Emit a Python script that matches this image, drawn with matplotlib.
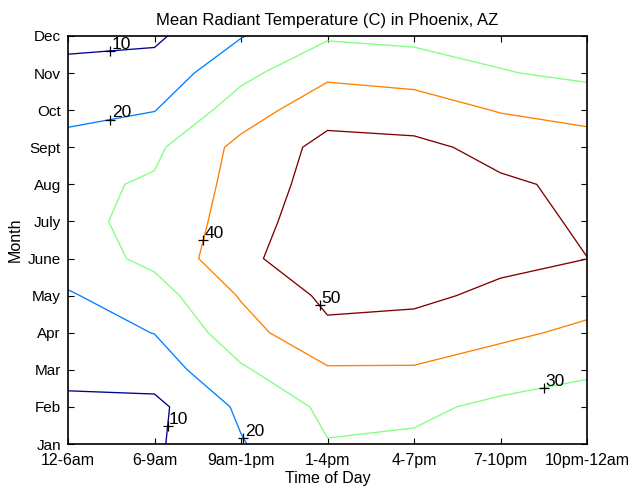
import numpy as np
import matplotlib
matplotlib.use("Agg")
import matplotlib.pyplot as plt

plt.rcParams["font.family"] = ["Liberation Sans", "DejaVu Sans"]

times = ["12-6am", "6-9am", "9am-1pm", "1-4pm", "4-7pm", "7-10pm", "10pm-12am"]
months = ["Jan", "Feb", "Mar", "Apr", "May", "June", "July",
          "Aug", "Sept", "Oct", "Nov", "Dec"]

# Mean radiant temperature (C): one list per month, one value per time block
jan = [6.0, 8.6, 19.3, 29.6, 27.4, 24.0, 22.0]
feb = [7.7, 7.5, 21.8, 32.1, 33.4, 26.5, 25.4]
mar = [13.0, 14.7, 28.7, 39.0, 39.2, 38.3, 31.6]
apr = [16.0, 20.2, 36.0, 48.1, 45.7, 40.7, 39.3]
may = [19.1, 25.6, 40.8, 52.1, 52.4, 47.5, 41.3]
jun = [24.8, 32.5, 47.2, 58.0, 58.5, 52.8, 50.1]
jul = [26.9, 33.5, 44.0, 58.0, 59.5, 55.1, 48.0]
aug = [27.9, 31.1, 43.5, 54.7, 57.0, 51.3, 48.2]
sep = [25.0, 28.1, 42.8, 52.9, 52.4, 47.1, 44.6]
oct_ = [15.7, 19.7, 35.0, 46.5, 44.6, 39.4, 36.3]
nov = [13.0, 13.8, 27.3, 37.9, 36.3, 30.6, 27.9]
dec = [7.1, 8.3, 19.5, 28.8, 27.3, 26.0, 22.0]

levels = [10, 20, 30, 40, 50]
line_colors = ["#00008F", "#0080FF", "#80FF80", "#FF8000", "#800000"]

# approximate spots (time index, month index) where each level gets its label
label_spots = [
    (10, 1.49, 11.57),
    (20, 1.49, 9.76),
    (40, 2.56, 6.50),
    (50, 3.90, 4.72),
    (30, 6.50, 2.54),
    (10, 2.155, 1.49),
    (20, 3.02, 1.16),
]

mrt = np.array([jan, feb, mar, apr, may, jun, jul, aug, sep, oct_, nov, dec])
x = np.arange(1, len(times) + 1)
y = np.arange(1, len(months) + 1)

fig = plt.figure(figsize=(6.32, 4.91), dpi=100)
ax = fig.add_axes([0.1076, 0.0957, 0.8212, 0.831])

cs = ax.contour(x, y, mrt, levels=levels, colors=line_colors, linewidths=0.95)

ax.set_xlim(1, len(times))
ax.set_ylim(1, len(months))

# scale factors so the nearest-point search works in screen-like units
sx = 86.55
sy = 37.09


def snap(level, px, py):
    segs = cs.allsegs[levels.index(level)]
    best = None
    for seg in segs:
        pts = np.asarray(seg)
        for (x0, y0), (x1, y1) in zip(pts[:-1], pts[1:]):
            dx, dy = (x1 - x0) * sx, (y1 - y0) * sy
            L2 = dx * dx + dy * dy
            if L2 == 0:
                u = 0.0
            else:
                u = ((px - x0) * sx * dx + (py - y0) * sy * dy) / L2
                u = min(1.0, max(0.0, u))
            qx, qy = x0 + u * (x1 - x0), y0 + u * (y1 - y0)
            d = ((qx - px) * sx) ** 2 + ((qy - py) * sy) ** 2
            if best is None or d < best[0]:
                best = (d, qx, qy)
    return best[1], best[2]


for level, px, py in label_spots:
    qx, qy = snap(level, px, py)
    ax.plot([qx], [qy], marker="+", color="black", markersize=7,
            markeredgewidth=0.9, clip_on=False)
    ax.annotate(str(level), (qx, qy), xytext=(1, 1.5), textcoords="offset points",
                ha="left", va="baseline", fontsize=12.5, color="black",
                annotation_clip=False)

ax.set_xticks(x)
ax.set_xticklabels(times)
ax.set_yticks(y)
ax.set_yticklabels(months)
ax.tick_params(direction="in", top=True, right=True, length=4, width=0.8,
               labelsize=11.5)
ax.tick_params(axis="x", pad=6.5)
ax.tick_params(axis="y", pad=5, labelsize=11)
for sp in ax.spines.values():
    sp.set_linewidth(1.2)

ax.set_title("Mean Radiant Temperature (C) in Phoenix, AZ", fontsize=12, pad=8)
ax.set_xlabel("Time of Day", fontsize=11.5, labelpad=2)
ax.set_ylabel("Month", fontsize=11.5, labelpad=4)

fig.savefig("out.png", dpi=100)
